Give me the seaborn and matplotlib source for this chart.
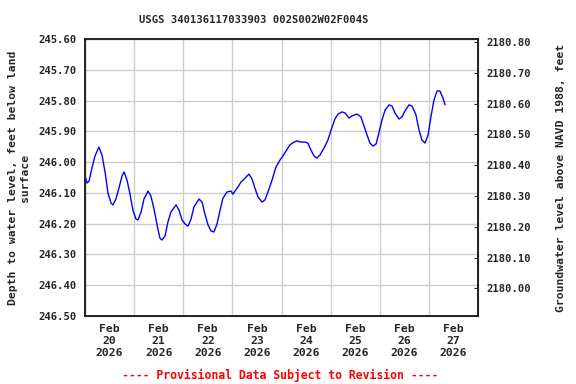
import numpy as np
import pandas as pd
import matplotlib
matplotlib.use("Agg")
import matplotlib.pyplot as plt
import matplotlib.dates as mdates
import seaborn as sns

# hours since 2026-02-20 00:00 and depth below land surface (ft)
hours = [0.0, 1.0, 2.0, 3.4, 4.9, 6.8, 8.3, 9.8, 11.2, 12.7, 13.7, 15.1, 16.6, 18.1,
         19.1, 20.5, 22.0, 23.4, 24.9, 25.9, 27.4, 28.8, 30.8, 32.2, 33.7, 35.2,
         36.6, 37.6, 39.1, 40.5, 42.0, 44.5, 45.9, 47.4, 48.9, 50.3, 51.8, 53.2,
         55.7, 57.2, 58.6, 60.1, 61.6, 63.0, 64.5, 66.0, 67.4, 69.4, 71.3, 72.3,
         73.3, 74.7, 76.2, 78.2, 80.1, 81.6, 83.0, 84.5, 86.5, 87.9, 89.4, 91.4,
         93.3, 95.3, 96.7, 98.2, 100.1, 102.1, 103.6, 105.5, 107.5, 108.9, 110.4,
         111.9, 113.3, 114.8, 116.8, 118.7, 120.2, 122.1, 123.6, 125.5, 127.0,
         129.0, 130.4, 132.9, 134.8, 136.3, 137.8, 139.2, 140.7, 142.2, 143.6,
         145.1, 146.6, 148.5, 150.0, 151.4, 153.4, 154.9, 156.3, 158.3, 159.8,
         161.7, 163.2, 164.6, 166.1, 167.6, 169.0, 170.5, 172.0, 173.4, 174.9, 175.9]
depth = [246.045, 246.068, 246.061, 246.019, 245.980, 245.951, 245.977, 246.032,
         246.100, 246.133, 246.139, 246.120, 246.084, 246.045, 246.032, 246.058,
         246.104, 246.156, 246.185, 246.188, 246.162, 246.120, 246.094, 246.110,
         246.152, 246.204, 246.247, 246.253, 246.240, 246.195, 246.162, 246.139,
         246.156, 246.188, 246.201, 246.208, 246.185, 246.146, 246.120, 246.130,
         246.169, 246.204, 246.224, 246.227, 246.201, 246.156, 246.117, 246.097,
         246.094, 246.104, 246.094, 246.081, 246.065, 246.052, 246.039, 246.055,
         246.084, 246.113, 246.130, 246.123, 246.097, 246.058, 246.016, 245.993,
         245.980, 245.964, 245.944, 245.935, 245.931, 245.935, 245.935, 245.938,
         245.961, 245.980, 245.987, 245.977, 245.954, 245.928, 245.896, 245.860,
         245.844, 245.837, 245.840, 245.857, 245.850, 245.844, 245.853, 245.883,
         245.912, 245.938, 245.948, 245.941, 245.905, 245.863, 245.831, 245.814,
         245.818, 245.840, 245.860, 245.853, 245.834, 245.814, 245.818, 245.847,
         245.896, 245.928, 245.938, 245.912, 245.853, 245.798, 245.769, 245.769,
         245.792, 245.814]

land_surface = 2426.41
left_ticks = [245.60, 245.70, 245.80, 245.90, 246.00, 246.10, 246.20, 246.30, 246.40, 246.50]
right_ticks = [2180.00, 2180.10, 2180.20, 2180.30, 2180.40, 2180.50, 2180.60, 2180.70, 2180.80]
title = "USGS 340136117033903 002S002W02F004S"
note = "---- Provisional Data Subject to Revision ----"

start = pd.Timestamp("2026-02-20")
df = pd.DataFrame({"time": start + pd.to_timedelta(hours, unit="h"), "depth": depth})

sns.set_style("white")
plt.rcParams["font.family"] = ["DejaVu Sans Mono"]
plt.rcParams["font.weight"] = "bold"

fig = plt.figure(figsize=(5.76, 3.84), dpi=100)
ax = fig.add_axes([85 / 576, 1 - 316 / 384, 393 / 576, 277 / 384])

sns.lineplot(data=df, x="time", y="depth", ax=ax, color="#0000ff", linewidth=1)

ax.set_xlim(start, start + pd.Timedelta(days=8))
ax.set_ylim(246.50, 245.60)
ax.set_yticks(left_ticks)
ax.set_yticklabels([f"{v:.2f}" for v in left_ticks], fontsize=7.6, fontweight="bold")

ax.xaxis.set_major_locator(mdates.HourLocator(byhour=[12]))
ax.xaxis.set_major_formatter(mdates.DateFormatter("%b\n%d\n%Y"))
ax.xaxis.set_minor_locator(mdates.DayLocator())
ax.tick_params(axis="x", which="both", length=0, labelsize=8.2, pad=6)
ax.tick_params(axis="y", length=0, pad=6)
for lbl in ax.get_xticklabels():
    lbl.set_fontweight("bold")

ax.grid(False)
ax.grid(True, which="minor", axis="x", color="#cccccc", linewidth=1)
ax.grid(True, which="major", axis="y", color="#cccccc", linewidth=1)
ax.set_axisbelow(True)
for s in ax.spines.values():
    s.set_color("black")
    s.set_linewidth(1.2)

ax.set_xlabel("")
ax.set_ylabel("Depth to water level, feet below land\nsurface", fontsize=8.2,
              fontweight="bold", labelpad=6)

ax2 = ax.twinx()
ax2.set_ylim(land_surface - 246.50, land_surface - 245.60)
ax2.set_yticks(right_ticks)
ax2.set_yticklabels([f"{v:.2f}" for v in right_ticks], fontsize=7.6, fontweight="bold")
ax2.tick_params(axis="y", direction="in", length=3, pad=6)
ax2.set_ylabel("Groundwater level above NAVD 1988, feet", fontsize=8.2,
               fontweight="bold", labelpad=18)
ax2.grid(False)

fig.text(254 / 576, 1 - 20 / 384, title, ha="center", va="center",
         fontsize=7.6, fontweight="bold")
fig.text(280 / 576, 1 - 375 / 384, note, ha="center", va="center",
         fontsize=8.3, fontweight="bold", color="red")

fig.savefig("out.png", dpi=100)
